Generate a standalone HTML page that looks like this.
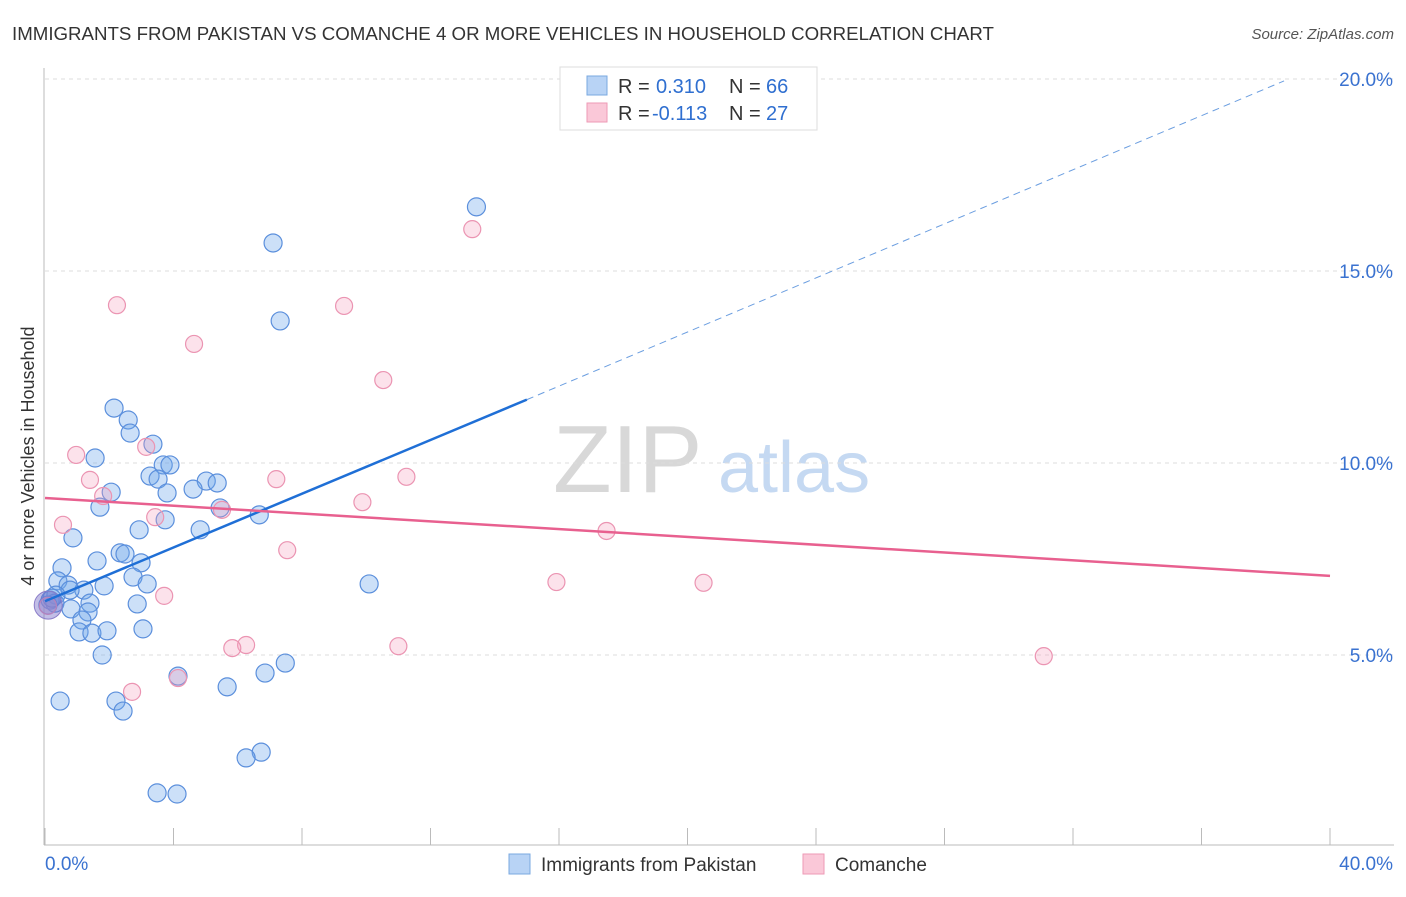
<!DOCTYPE html>
<html><head><meta charset="utf-8">
<style>
body{margin:0;background:#fff;font-family:"Liberation Sans",sans-serif;}
svg text{font-family:"Liberation Sans",sans-serif;}
</style></head><body>
<svg id="chart" width="1406" height="892" xmlns="http://www.w3.org/2000/svg">
<text x="12" y="40" font-size="18.7" fill="#333">IMMIGRANTS FROM PAKISTAN VS COMANCHE 4 OR MORE VEHICLES IN HOUSEHOLD CORRELATION CHART</text>
<text x="1394" y="39" font-size="15" fill="#555" font-style="italic" text-anchor="end">Source: ZipAtlas.com</text>
<g>
<text x="553" y="492" font-size="96" font-family="Liberation Serif" fill="#d8d8d8">ZIP</text>
<text x="718" y="492" font-size="72" fill="#c5d9f2">atlas</text>
</g>
<g id="grid"></g>
<g id="axes"></g>
<g id="marks"></g>
<g id="lines"></g>
<g>
<rect x="560" y="67" width="257" height="63" fill="#fff" stroke="#ddd"/>
<rect x="587" y="76" width="20" height="19" fill="#b8d3f5" stroke="#7aa8e0"/>
<rect x="587" y="103" width="20" height="19" fill="#fac8d8" stroke="#ee9ab6"/>
<text x="618" y="93" font-size="20" fill="#333">R = </text><text x="656" y="93" font-size="20" fill="#2f6fd0">0.310</text>
<text x="729" y="93" font-size="20" fill="#333">N = </text><text x="766" y="93" font-size="20" fill="#2f6fd0">66</text>
<text x="618" y="120" font-size="20" fill="#333">R = </text><text x="652" y="120" font-size="20" fill="#2f6fd0">-0.113</text>
<text x="729" y="120" font-size="20" fill="#333">N = </text><text x="766" y="120" font-size="20" fill="#2f6fd0">27</text>
</g>
<g>
<rect x="509" y="854" width="21" height="20" fill="#b8d3f5" stroke="#7aa8e0"/>
<text x="541" y="871" font-size="19" fill="#333">Immigrants from Pakistan</text>
<rect x="803" y="854" width="21" height="20" fill="#fac8d8" stroke="#ee9ab6"/>
<text x="835" y="871" font-size="19" fill="#333">Comanche</text>
</g>
<text transform="translate(34,456) rotate(-90)" font-size="18" fill="#333" text-anchor="middle">4 or more Vehicles in Household</text>
</svg>
<script>
const blueX=[13.43,7.10,7.32,2.15,2.59,2.65,3.36,1.56,3.68,3.89,3.27,3.52,5.02,5.36,4.61,3.80,2.06,1.71,5.45,6.67,3.74,2.93,4.83,0.87,2.34,2.49,1.62,2.99,0.53,2.74,3.18,0.40,0.72,1.84,1.21,0.78,0.34,0.16,0.31,1.40,2.87,0.81,1.34,1.15,1.06,1.46,1.93,3.05,1.78,10.09,7.48,6.85,4.14,5.67,0.47,2.21,2.43,6.73,6.26,3.49,4.11,0.09,0.22];
const blueY=[16.67,15.73,13.70,11.43,11.12,10.78,10.49,10.13,9.95,9.95,9.66,9.58,9.53,9.48,9.32,9.22,9.24,8.85,8.83,8.65,8.52,8.26,8.26,8.05,7.66,7.63,7.45,7.40,7.27,7.03,6.85,6.93,6.82,6.80,6.69,6.69,6.56,6.43,6.35,6.35,6.33,6.20,6.12,5.91,5.60,5.57,5.63,5.68,5.00,6.85,4.79,4.53,4.45,4.17,3.80,3.80,3.54,2.47,2.32,1.41,1.38,6.30,6.48];
const pinkX=[13.30,2.24,9.31,4.64,10.53,0.97,3.15,1.40,7.20,11.25,1.81,9.88,5.51,3.43,0.56,17.48,7.54,15.92,20.50,3.71,0.09,6.26,5.83,11.00,2.71,4.14,31.09];
const pinkY=[16.09,14.11,14.09,13.10,12.16,10.21,10.42,9.56,9.58,9.64,9.14,8.98,8.78,8.59,8.39,8.23,7.73,6.90,6.88,6.54,6.28,5.26,5.18,5.23,4.04,4.40,4.97];
const yTicks=[5,10,15,20];
const yTickLabels=["5.0%","10.0%","15.0%","20.0%"];
const xTicks=[0,4,8,12,16,20,24,28,32,36,40];
const blueTrend=[[0,6.4],[15.0,11.65],[38.57,19.95]];
const pinkTrend=[[0,9.09],[40,7.06]];
const NS="http://www.w3.org/2000/svg";
const sx=v=>45+v*32.125, sy=v=>847-v*38.4;
function mk(tag,attrs,parent){const e=document.createElementNS(NS,tag);for(const k in attrs)e.setAttribute(k,attrs[k]);document.getElementById(parent).appendChild(e);return e;}
yTicks.forEach((t,i)=>{
 const g=mk('line',{x1:45,x2:1394,y1:sy(t),y2:sy(t),stroke:'#ddd','stroke-dasharray':'4,4'},'grid');
 
 
 const l=mk('text',{x:1393,y:sy(t)+7,'font-size':19,fill:'#3a72d0','text-anchor':'end'},'axes');
 l.textContent=yTickLabels[i];
 
 
});
const topGrid=mk('line',{x1:45,x2:1394,y1:79,y2:79,stroke:'#ddd','stroke-dasharray':'4,4'},'grid');


const ya=mk('line',{x1:44,x2:44,y1:68,y2:845,stroke:'#bbb'},'axes');


const xa=mk('line',{x1:44,x2:1394,y1:845,y2:845,stroke:'#bbb'},'axes');


xTicks.forEach(t=>{
 const k=mk('line',{x1:sx(t),x2:sx(t),y1:828,y2:845,stroke:'#bbb'},'axes');
 
 
});
const x0=mk('text',{x:45,y:870,'font-size':19,fill:'#3a72d0'},'axes');x0.textContent='0.0%';


const x1=mk('text',{x:1393,y:870,'font-size':19,fill:'#3a72d0','text-anchor':'end'},'axes');x1.textContent='40.0%';


blueX.forEach((v,i)=>{
 const c=mk('circle',{cx:sx(v),cy:sy(blueY[i]),r:9,fill:'rgba(110,165,235,0.35)',stroke:'#5b8fdc','stroke-width':1.2},'marks');
 
 
});
pinkX.forEach((v,i)=>{
 const c=mk('circle',{cx:sx(v),cy:sy(pinkY[i]),r:8.5,fill:'rgba(245,160,190,0.3)',stroke:'#eb94b2','stroke-width':1.2},'marks');
 
 
});
const big=mk('circle',{cx:sx(0.1),cy:sy(6.3),r:14,fill:'rgba(120,110,200,0.45)',stroke:'#8a7cc8','stroke-width':1},'marks');


const bl=mk('line',{x1:sx(blueTrend[0][0]),y1:sy(blueTrend[0][1]),x2:sx(blueTrend[1][0]),y2:sy(blueTrend[1][1]),stroke:'#1f6fd6','stroke-width':2.5},'lines');


const bd=mk('line',{x1:sx(blueTrend[1][0]),y1:sy(blueTrend[1][1]),x2:sx(blueTrend[2][0]),y2:sy(blueTrend[2][1]),stroke:'#6b9ee0','stroke-width':1,'stroke-dasharray':'7,5'},'lines');


const pl=mk('line',{x1:sx(pinkTrend[0][0]),y1:sy(pinkTrend[0][1]),x2:sx(pinkTrend[1][0]),y2:sy(pinkTrend[1][1]),stroke:'#e8608f','stroke-width':2.5},'lines');


</script>
</body></html>
